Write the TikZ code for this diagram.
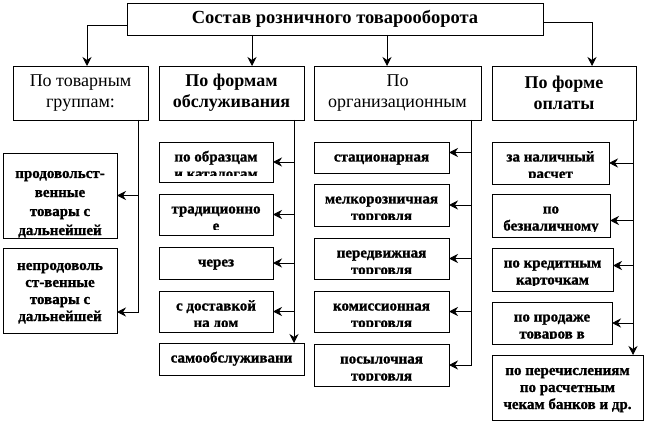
\documentclass[tikz,border=0pt]{standalone}
\usepackage{fontspec}
\setmainfont{Liberation Serif}
\newfontfamily\lowfont{Liberation Serif Bold}[FakeBold=1.2]
\usetikzlibrary{arrows.meta}
\tikzset{
 box/.style={draw, line width=0.8pt, inner sep=0pt, outer sep=0pt, anchor=north west, align=center},
 lowtext/.style={anchor=base, inner sep=0pt, font=\fontsize{15}{17}\selectfont\lowfont},
 arr/.style={line width=0.8pt, -{Stealth[length=9pt,width=9pt,inset=3pt]}},
 lvl/.style={font=\fontsize{18}{21}\selectfont},
 lvlb/.style={font=\fontsize{18}{21}\selectfont\bfseries},
}
% name, x, y, w, h, first baseline, spacing, bottom clip inset, lines
\newcommand\lowbox[9]{%
 \node[box, minimum width=#4pt, minimum height=#5pt] (#1) at (#2,#3) {};
 \begin{scope}
 \clip ([xshift=1pt,yshift=-1pt]#1.north west) rectangle ([xshift=-1pt,yshift=#8pt]#1.south east);
 \foreach \ltxt [count=\lnum] in {#9} {\node[lowtext] (#1-\lnum) at ([yshift={-(#6+(\lnum-1)*#7)*1pt}]#1.north) {\ltxt};}
 \end{scope}}
\begin{document}
\begin{tikzpicture}[x=1pt,y=-1pt]
\fill[white] (0,0) rectangle (645,422);
\useasboundingbox (0,0) rectangle (645,422);
% top
\node[box, minimum width=416pt, minimum height=32pt, font=\fontsize{18.5}{21}\selectfont\bfseries] (top) at (127,3) {Состав розничного товарооборота};
% level 2
\node[box, lvl, minimum width=135pt, minimum height=54pt] (g1) at (13,66) {По товарным\\группам:};
\node[box, lvlb, minimum width=145pt, minimum height=54pt] (g2) at (159,66) {По формам\\обслуживания};
\node[box, lvl, minimum width=167pt, minimum height=54pt] (g3) at (314,66) {По\\организационным};
\node[box, lvlb, minimum width=144pt, minimum height=54pt] (g4) at (492,66) {По форме\\оплаты};
% connectors from top
\draw[arr] ([yshift=-6pt]top.west) -| ([xshift=6.5pt]g1.north);
\coordinate (p2) at ([xshift=20.5pt]g2.north);
\coordinate (p3) at ([xshift=-10.5pt]g3.north);
\draw[arr] (p2 |- top.south) -- (p2);
\draw[arr] (p3 |- top.south) -- (p3);
\draw[arr] ([yshift=-3pt]top.east) -| ([xshift=28pt]g4.north);
% column 1
\lowbox{a1}{3}{153}{114}{85}{25}{19}{1}{продовольст-,венные,товары с,дальнейшей}
\lowbox{a2}{3}{248}{114}{85}{22}{17}{1}{непродоволь,ст-венные,товары с,дальнейшей}
% column 2
\lowbox{b1}{159}{142}{114}{40}{19.5}{17}{6}{по образцам,и каталогам}
\lowbox{b2}{159}{194}{114}{41}{19.5}{17}{6}{традиционно,е}
\lowbox{b3}{159}{247}{114}{32}{19.5}{17}{6}{через}
\lowbox{b4}{159}{291}{114}{41}{19.5}{17}{6}{с доставкой,на дом}
\lowbox{b5}{159}{343}{145}{32}{19.5}{17}{6}{самообслуживани}
% column 3
\lowbox{c1}{314}{142}{135}{31}{19.5}{17}{6}{стационарная}
\lowbox{c2}{314}{184}{135}{42}{19.5}{17}{6}{мелкорозничная,торговля}
\lowbox{c3}{314}{238}{135}{41}{19.5}{17}{6}{передвижная,торговля}
\lowbox{c4}{314}{291}{135}{41}{19.5}{17}{6}{комиссионная,торговля}
\lowbox{c5}{314}{344}{135}{42}{19.5}{17}{6}{посылочная,торговля}
% column 4
\lowbox{d1}{492}{142}{117}{42}{19.5}{17}{6}{за наличный,расчет}
\lowbox{d2}{492}{194}{118}{43}{19.5}{17}{6}{по,безналичному}
\lowbox{d3}{492}{248}{121}{43}{19.5}{17}{6}{по кредитным,карточкам}
\lowbox{d4}{492}{302}{120}{42}{19.5}{17}{6}{по продаже,товаров в}
\lowbox{d5}{492}{355}{151}{65}{20}{17}{1}{по перечислениям,по расчетным,чекам банков и др.}
% trunks
\coordinate (t1) at ([xshift=-10pt]g1.south east);
\coordinate (t2) at ([xshift=-10pt]g2.south east);
\coordinate (t3) at ([xshift=-10pt]g3.south east);
\coordinate (t4) at ([xshift=-3pt]g4.south east);
% column 1 connectors
\coordinate (e2) at ([yshift=-21.5pt]a2.east);
\draw[arr] (t1) |- (e2);
\draw[arr] (t1 |- a1.east) -- (a1.east);
% column 2 connectors
\draw[arr] (t2) -- (t2 |- b5.north);
\draw[arr] (t2 |- b1.east) -- (b1.east);
\draw[arr] (t2 |- b2.east) -- (b2.east);
\draw[arr] (t2 |- b3.east) -- (b3.east);
\draw[arr] (t2 |- b4.east) -- (b4.east);
% column 3 connectors
\coordinate (f1) at ([yshift=5pt]c1.east);
\draw[arr] (t3) |- (c5.east);
\draw[arr] (t3 |- f1) -- (f1);
\draw[arr] (t3 |- c2.east) -- (c2.east);
\draw[arr] (t3 |- c3.east) -- (c3.east);
\draw[arr] (t3 |- c4.east) -- (c4.east);
% column 4 connectors
\coordinate (h2) at ([yshift=-5pt]d2.east);
\coordinate (h3) at ([yshift=4pt]d3.east);
\draw[arr] (t4) -- (t4 |- d5.north);
\draw[arr] (t4 |- d1.east) -- (d1.east);
\draw[arr] (t4 |- h2) -- (h2);
\draw[arr] (t4 |- h3) -- (h3);
\draw[arr] (t4 |- d4.east) -- (d4.east);
\end{tikzpicture}
\end{document}
